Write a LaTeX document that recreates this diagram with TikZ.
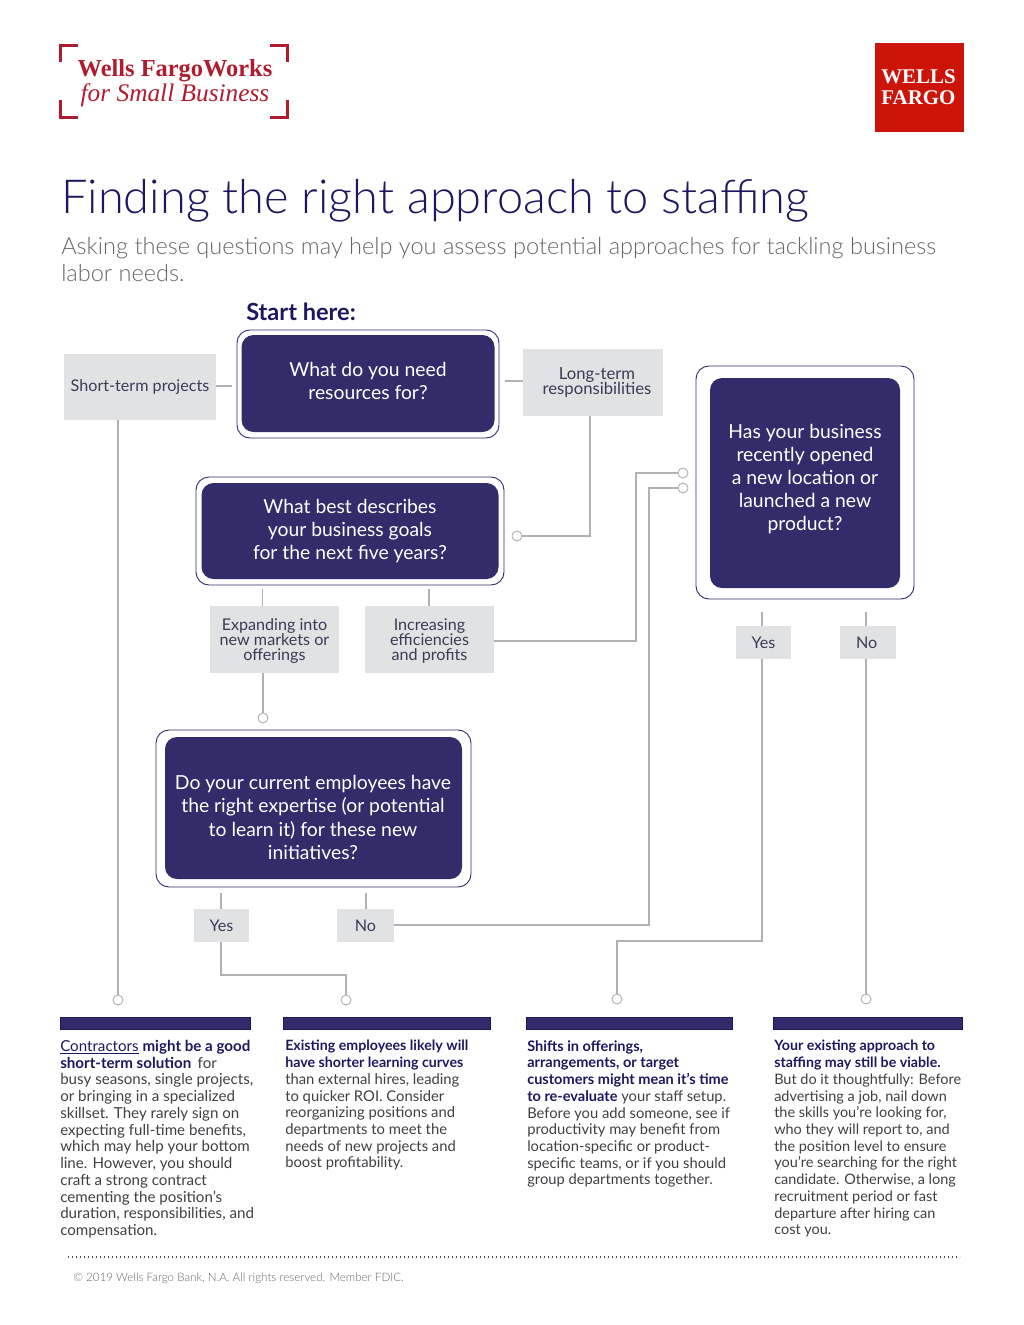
\documentclass[tikz,border=0pt]{standalone}
\usepackage{fontspec}
\setmainfont{Lato}
\newfontfamily\lightfont{Lato Light}
\newfontfamily\logofont{Liberation Serif}
\usetikzlibrary{calc}

\definecolor{navy}{HTML}{322C6B}
\definecolor{titleBlue}{HTML}{1C1760}
\definecolor{paleGray}{HTML}{E1E2E4}
\definecolor{linkGray}{HTML}{B0B1B5}
\definecolor{logoRed}{HTML}{B01C2E}
\definecolor{boxRed}{HTML}{CD1409}
\definecolor{labelInk}{HTML}{3B3B55}
\definecolor{bodyInk}{HTML}{3F3F44}
\definecolor{subInk}{HTML}{66666A}

\def\px{0.75pt}

% first line pushed down inside an answer box
\newcommand{\drop}{\rule{0pt}{11.5pt}}
\newcommand{\tightlines}{\setlength{\lineskiplimit}{-5pt}}
\newcommand{\lead}[2][10.65]{{\fontsize{#1}{12.55}\bfseries\color{titleBlue}\selectfont#2}}

\tikzset{
    link/.style={draw=linkGray, line width=0.8pt},
    joint/.style={circle, draw=linkGray, fill=white, line width=0.7pt, minimum size=10*\px, inner sep=0pt},
    outerbox/.style={draw=navy, fill=white, line width=0.7pt, rounded corners=13*\px, inner sep=0pt},
    question/.style={fill=navy, rounded corners=12*\px, inner sep=0pt},
    questiontext/.style={text=white, inner sep=0pt, align=center, font=\fontsize{14.5}{17.4}\selectfont},
    answer/.style={fill=paleGray, text=labelInk, inner sep=0pt, align=center,
        font=\fontsize{12.1}{11.25}\selectfont\tightlines},
    bar/.style={fill=navy, draw=titleBlue, line width=0.3pt, inner sep=0pt, minimum height=12*\px},
    column/.style={anchor=north west, inner sep=0pt, align=left, text=bodyInk},
    corner/.style={draw=logoRed, line width=3*\px}
}

\begin{document}
\begin{tikzpicture}[x=0.75pt, y=-0.75pt]

% Page
\useasboundingbox (0,0) rectangle (1024,1325);

% Logo frame
\draw[corner] (60,62) -- (60,45) -- (78,45);
\draw[corner] (270,45) -- (287,45) -- (287,62);
\draw[corner] (60,100) -- (60,117) -- (78,117);
\draw[corner] (270,117) -- (287,117) -- (287,100);
\node[text=logoRed, font=\logofont\bfseries\fontsize{18.3}{20}\selectfont] (logoTop) at (175,70.5) {Wells FargoWorks};
\node[text=logoRed, font=\logofont\itshape\fontsize{19}{20}\selectfont] (logoBottom) at (175,95) {for Small Business};

% Bank mark
\node[fill=boxRed, minimum size=89*\px, inner sep=0pt] (bankBox) at (919.5,87.5) {};
\node[text=white, align=center, font=\logofont\bfseries\fontsize{15.7}{16}\selectfont] (bankName) at (918.5,87.5) {WELLS\\FARGO};

% Heading
\node[anchor=west, inner sep=0pt, text=titleBlue, font=\lightfont\fontsize{35.2}{40}\selectfont] (heading) at (61,201)
    {Finding the right approach to staffing};
\node[anchor=north west, inner sep=0pt, align=left, text=subInk, font=\lightfont\fontsize{17.65}{20}\selectfont] (subheading) at (61,237)
    {Asking these questions may help you assess potential approaches for tackling business\\labor needs.};
\node[anchor=west, inner sep=0pt, text=titleBlue, font=\bfseries\fontsize{17.7}{20}\selectfont] (startLabel) at (246,312) {Start here:};

% Question boxes
\node[outerbox, minimum width=262*\px, minimum height=108*\px] (startOuter) at (368,384) {};
\node[question, minimum width=253*\px, minimum height=97*\px] (startBox) at (368,383.5) {};
\node[questiontext] (startText) at (368,381) {What do you need\\resources for?};

\node[outerbox, minimum width=308*\px, minimum height=108*\px] (goalsOuter) at (350,531) {};
\node[question, minimum width=297*\px, minimum height=96*\px] (goalsBox) at (350,531) {};
\node[questiontext] (goalsText) at (350,531) {What best describes\\your business goals\\for the next five years?};

\node[outerbox, minimum width=218*\px, minimum height=233*\px] (openedOuter) at (805,482.5) {};
\node[question, minimum width=190*\px, minimum height=210*\px] (openedBox) at (805,483) {};
\node[questiontext] (openedText) at (805,479) {Has your business\\recently opened\\a new location or\\launched a new\\product?};

\node[outerbox, minimum width=315*\px, minimum height=157*\px] (staffOuter) at (313.5,808.5) {};
\node[question, minimum width=297*\px, minimum height=142*\px] (staffBox) at (313.5,808) {};
\node[questiontext] (staffText) at (313,817.5) {Do your current employees have\\the right expertise (or potential\\to learn it) for these new\\initiatives?};

% Answer boxes
\node[answer, minimum width=152*\px, minimum height=66*\px] (shortBox) at (140,387) {Short-term projects};
\node[answer, minimum width=140*\px, minimum height=67*\px, font=\fontsize{12.5}{11.25}\selectfont\tightlines] (longBox) at (593,382.5)
    {\hspace*{6pt}Long-term\\\hspace*{6pt}responsibilities};
\node[answer, minimum width=129*\px, minimum height=67*\px] (expandBox) at (274.5,639.5) {\drop Expanding into\\new markets or\\offerings};
\node[answer, minimum width=129*\px, minimum height=67*\px] (efficBox) at (429.5,639.5) {\drop Increasing\\efficiencies\\and profits};
\node[answer, minimum width=55*\px, minimum height=33*\px] (yesOpened) at (763.5,642.5) {Yes};
\node[answer, minimum width=56*\px, minimum height=33*\px] (noOpened) at (868,642.5) {\hspace*{-2pt}No};
\node[answer, minimum width=55*\px, minimum height=33*\px] (yesStaff) at (221.5,925.5) {Yes};
\node[answer, minimum width=57*\px, minimum height=33*\px] (noStaff) at (365.5,925.5) {No};

% Joints
\node[joint] (contractEnd) at (118,1000) {};
\node[joint] (existingEnd) at (346,1000) {};
\node[joint] (shiftsEnd) at (617,999) {};
\node[joint] (approachEnd) at (866,999) {};
\node[joint] (goalsEnd) at (517,536) {};
\node[joint] (staffEnd) at (263,718) {};
\node[joint] (openedEndA) at (683,473) {};
\node[joint] (openedEndB) at (683,488) {};

% Free ends and turns
\coordinate (shortStub) at (232,386);
\coordinate (longStub) at (505,381);
\coordinate (expandStub) at (262.5,589);
\coordinate (efficStub) at (429,589);
\coordinate (yesOpenedStub) at (762,612);
\coordinate (noOpenedStub) at (866,612);
\coordinate (yesStaffStub) at (221,893);
\coordinate (noStaffStub) at (366,893);
\coordinate (longTurn) at (590,536);
\coordinate (efficTurn) at (636,641);
\coordinate (noStaffTurn) at (649,925);
\coordinate (yesOpenedTurn) at (762,941);
\coordinate (yesStaffTurn) at (221,975);

% Short stubs
\draw[link] (shortBox.east |- shortStub) -- (shortStub);
\draw[link] (longStub) -- (longBox.west |- longStub);
\draw[link] (expandStub) -- (expandStub |- expandBox.north);
\draw[link] (efficStub) -- (efficStub |- efficBox.north);
\draw[link] (yesOpenedStub) -- (yesOpenedStub |- yesOpened.north);
\draw[link] (noOpenedStub) -- (noOpenedStub |- noOpened.north);
\draw[link] (yesStaffStub) -- (yesStaffStub |- yesStaff.north);
\draw[link] (noStaffStub) -- (noStaffStub |- noStaff.north);

% Connectors
\draw[link] (contractEnd |- shortBox.south) -- (contractEnd);
\draw[link] (longTurn |- longBox.south) -- (longTurn) -- (goalsEnd);
\draw[link] (staffEnd |- expandBox.south) -- (staffEnd);
\draw[link] (efficBox.east |- efficTurn) -- (efficTurn) -- (efficTurn |- openedEndA) -- (openedEndA);
\draw[link] (noStaff.east |- noStaffTurn) -- (noStaffTurn) -- (noStaffTurn |- openedEndB) -- (openedEndB);
\draw[link] (yesOpenedTurn |- yesOpened.south) -- (yesOpenedTurn) -- (shiftsEnd |- yesOpenedTurn) -- (shiftsEnd);
\draw[link] (approachEnd |- noOpened.south) -- (approachEnd);
\draw[link] (yesStaffTurn |- yesStaff.south) -- (yesStaffTurn) -- (existingEnd |- yesStaffTurn) -- (existingEnd);

% Result bars
\node[bar, minimum width=189.5*\px] (contractBar) at (155,1023) {};
\node[bar, minimum width=206.5*\px] (existingBar) at (386.5,1023) {};
\node[bar, minimum width=205.5*\px] (shiftsBar) at (629,1023) {};
\node[bar, minimum width=188.5*\px] (approachBar) at (867.5,1023) {};

% Result texts
\node[column, font=\fontsize{11.35}{12.55}\selectfont] (contractText) at (60,1040) {{\color{titleBlue}\underline{Contractors}} \lead[11.35]{might be a good}\\
\lead[11.35]{short-term solution}\, for\\
busy seasons, single projects,\\
or bringing in a specialized\\
skillset. They rarely sign on\\
expecting full-time benefits,\\
which may help your bottom\\
line. However, you should\\
craft a strong contract\\
cementing the position’s\\
duration, responsibilities, and\\
compensation.};
\node[column, font=\fontsize{11.1}{12.55}\selectfont] (existingText) at (285,1040) {\lead{Existing employees likely will}\\
\lead{have shorter learning curves}\\
than external hires, leading\\
to quicker ROI. Consider\\
reorganizing positions and\\
departments to meet the\\
needs of new projects and\\
boost profitability.};
\node[column, font=\fontsize{11.05}{12.55}\selectfont] (shiftsText) at (527,1040) {\lead[10.9]{Shifts in offerings,}\\
\lead[10.9]{arrangements, or target}\\
\lead[10.9]{customers might mean it’s time}\\
\lead[10.9]{to re-evaluate} your staff setup.\\
Before you add someone, see if\\
productivity may benefit from\\
location-specific or product-\\
specific teams, or if you should\\
group departments together.};
\node[column, font=\fontsize{10.85}{12.55}\selectfont] (approachText) at (774,1040) {\lead{Your existing approach to}\\
\lead{staffing may still be viable.}\\
But do it thoughtfully: Before\\
advertising a job, nail down\\
the skills you’re looking for,\\
who they will report to, and\\
the position level to ensure\\
you’re searching for the right\\
candidate. Otherwise, a long\\
recruitment period or fast\\
departure after hiring can\\
cost you.};

% Footer
\coordinate (ruleLeft) at (68,1257);
\coordinate (ruleRight) at (960,1257);
\draw[line width=0.8pt, dash pattern=on 0.8pt off 2.2pt, draw=black!70] (ruleLeft) -- (ruleRight);
\node[anchor=west, inner sep=0pt, text=subInk, font=\lightfont\fontsize{8.7}{11}\selectfont] (footer) at (73,1278)
    {© 2019 Wells Fargo Bank, N.A. All rights reserved. Member FDIC.};

\end{tikzpicture}
\end{document}
